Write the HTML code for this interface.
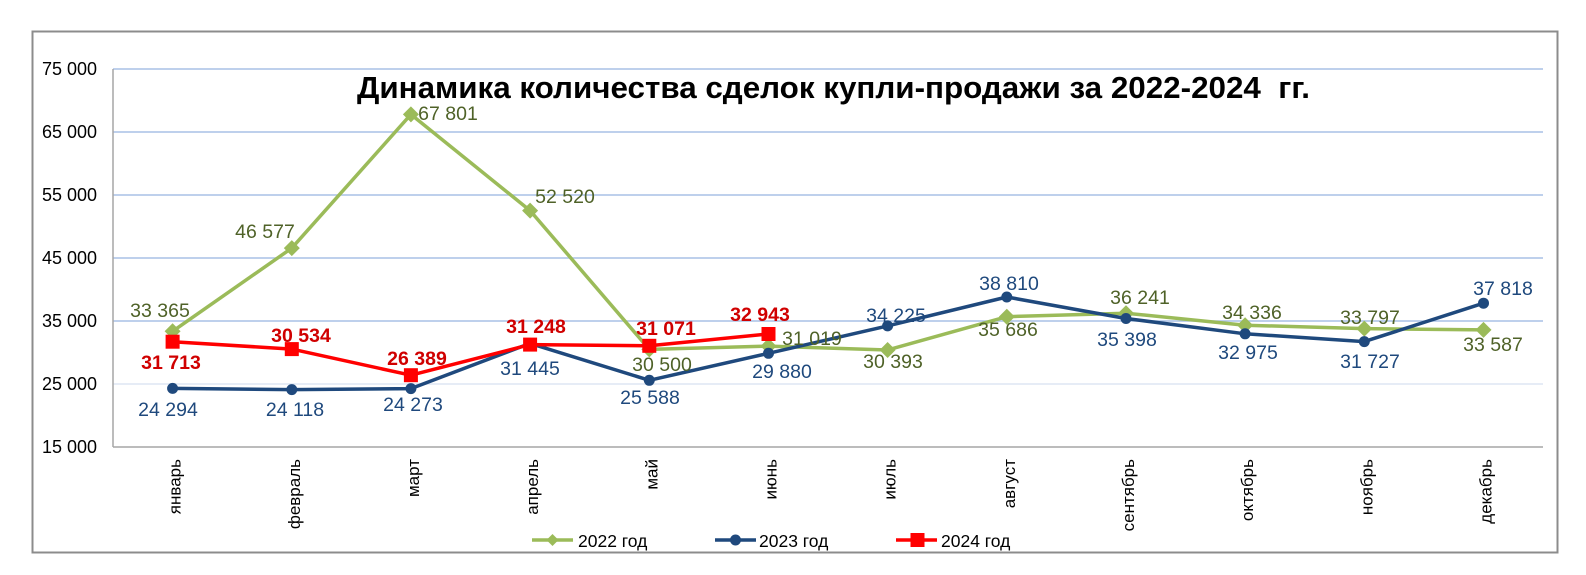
<!DOCTYPE html>
<html><head><meta charset="utf-8"><style>
html,body{margin:0;padding:0;background:#fff}
svg{display:block;font-family:"Liberation Sans",Arial,sans-serif}
</style></head><body>
<svg width="1586" height="575" viewBox="0 0 1586 575" xmlns="http://www.w3.org/2000/svg">
<rect x="0" y="0" width="1586" height="575" fill="#fff"/>
<rect x="32.5" y="31.5" width="1525" height="521" fill="#fff" stroke="#8c8c8c" stroke-width="2"/>
<g stroke="#a9c1e6" stroke-width="1.5">
<line x1="113" y1="69" x2="1543" y2="69"/>
<line x1="113" y1="132" x2="1543" y2="132"/>
<line x1="113" y1="195" x2="1543" y2="195"/>
<line x1="113" y1="258" x2="1543" y2="258"/>
<line x1="113" y1="321" x2="1543" y2="321"/>
<line x1="113" y1="384" x2="1543" y2="384" stroke="#dde6f4"/>
</g>
<line x1="113" y1="69" x2="113" y2="447" stroke="#a6a6a6" stroke-width="1.5"/>
<line x1="113" y1="447" x2="1543" y2="447" stroke="#a6a6a6" stroke-width="1.5"/>
<g font-size="18" fill="#000" text-anchor="end">
<text x="97" y="75">75 000</text>
<text x="97" y="138">65 000</text>
<text x="97" y="201">55 000</text>
<text x="97" y="264">45 000</text>
<text x="97" y="327">35 000</text>
<text x="97" y="390">25 000</text>
<text x="97" y="453">15 000</text>
</g>
<text x="357" y="98" font-size="31" font-weight="bold" textLength="953" lengthAdjust="spacingAndGlyphs">Динамика количества сделок купли-продажи за 2022-2024&#160;&#160;гг.</text>
<g font-size="17" fill="#000" text-anchor="end">
<text transform="translate(180.6,459) rotate(-90)">январь</text>
<text transform="translate(299.8,459) rotate(-90)">февраль</text>
<text transform="translate(418.9,459) rotate(-90)">март</text>
<text transform="translate(538.1,459) rotate(-90)">апрель</text>
<text transform="translate(657.3,459) rotate(-90)">май</text>
<text transform="translate(776.5,459) rotate(-90)">июнь</text>
<text transform="translate(895.6,459) rotate(-90)">июль</text>
<text transform="translate(1014.8,459) rotate(-90)">август</text>
<text transform="translate(1134,459) rotate(-90)">сентябрь</text>
<text transform="translate(1253.1,459) rotate(-90)">октябрь</text>
<text transform="translate(1372.3,459) rotate(-90)">ноябрь</text>
<text transform="translate(1491.5,459) rotate(-90)">декабрь</text>
</g>
<!-- 2022 -->
<polyline fill="none" stroke="#9bbb59" stroke-width="3.5" stroke-linejoin="round" points="172.6,331.3 291.8,248.1 410.9,114.4 530.1,210.6 649.3,349.4 768.5,346.1 887.6,350 1006.8,316.7 1126,313.2 1245.1,325.2 1364.3,328.6 1483.5,329.9"/>
<g fill="#9bbb59">
<polygon points="172.6,323.3 180.6,331.3 172.6,339.3 164.6,331.3"/>
<polygon points="291.8,240.1 299.8,248.1 291.8,256.1 283.8,248.1"/>
<polygon points="410.9,106.4 418.9,114.4 410.9,122.4 402.9,114.4"/>
<polygon points="530.1,202.6 538.1,210.6 530.1,218.6 522.1,210.6"/>
<polygon points="649.3,341.4 657.3,349.4 649.3,357.4 641.3,349.4"/>
<polygon points="768.5,338.1 776.5,346.1 768.5,354.1 760.5,346.1"/>
<polygon points="887.6,342 895.6,350 887.6,358 879.6,350"/>
<polygon points="1006.8,308.7 1014.8,316.7 1006.8,324.7 998.8,316.7"/>
<polygon points="1126,305.2 1134,313.2 1126,321.2 1118,313.2"/>
<polygon points="1245.1,317.2 1253.1,325.2 1245.1,333.2 1237.1,325.2"/>
<polygon points="1364.3,320.6 1372.3,328.6 1364.3,336.6 1356.3,328.6"/>
<polygon points="1483.5,321.9 1491.5,329.9 1483.5,337.9 1475.5,329.9"/>
</g>
<!-- 2023 -->
<polyline fill="none" stroke="#1f497d" stroke-width="3.5" stroke-linejoin="round" points="172.6,388.4 291.8,389.6 410.9,388.6 530.1,343.4 649.3,380.3 768.5,353.3 887.6,325.9 1006.8,297 1126,318.5 1245.1,333.8 1364.3,341.6 1483.5,303.2"/>
<g fill="#1f497d">
<circle cx="172.6" cy="388.4" r="5.5"/><circle cx="291.8" cy="389.6" r="5.5"/><circle cx="410.9" cy="388.6" r="5.5"/><circle cx="530.1" cy="343.4" r="5.5"/><circle cx="649.3" cy="380.3" r="5.5"/><circle cx="768.5" cy="353.3" r="5.5"/><circle cx="887.6" cy="325.9" r="5.5"/><circle cx="1006.8" cy="297" r="5.5"/><circle cx="1126" cy="318.5" r="5.5"/><circle cx="1245.1" cy="333.8" r="5.5"/><circle cx="1364.3" cy="341.6" r="5.5"/><circle cx="1483.5" cy="303.2" r="5.5"/>
</g>
<!-- 2024 -->
<polyline fill="none" stroke="#ff0000" stroke-width="3.5" stroke-linejoin="round" points="172.6,341.7 291.8,349.1 410.9,375.2 530.1,344.6 649.3,345.8 768.5,334"/>
<g fill="#ff0000">
<rect x="165.6" y="334.7" width="14" height="14"/><rect x="284.8" y="342.1" width="14" height="14"/><rect x="403.9" y="368.2" width="14" height="14"/><rect x="523.1" y="337.6" width="14" height="14"/><rect x="642.3" y="338.8" width="14" height="14"/><rect x="761.5" y="327" width="14" height="14"/>
</g>
<g font-size="19.5" fill="#4f6228" text-anchor="middle">
<text x="160" y="317">33 365</text><text x="265" y="238">46 577</text><text x="448" y="120">67 801</text><text x="565" y="203">52 520</text><text x="662" y="371">30 500</text><text x="812" y="345">31 019</text><text x="893" y="368">30 393</text><text x="1008" y="336">35 686</text><text x="1140" y="304">36 241</text><text x="1252" y="319">34 336</text><text x="1370" y="324">33 797</text><text x="1493" y="351">33 587</text>
</g>
<g font-size="19.5" fill="#1f497d" text-anchor="middle">
<text x="168" y="416">24 294</text><text x="295" y="416">24 118</text><text x="413" y="411">24 273</text><text x="530" y="375">31 445</text><text x="650" y="404">25 588</text><text x="782" y="378">29 880</text><text x="896" y="322">34 225</text><text x="1009" y="290">38 810</text><text x="1127" y="346">35 398</text><text x="1248" y="359">32 975</text><text x="1370" y="368">31 727</text><text x="1503" y="295">37 818</text>
</g>
<g font-size="19.5" fill="#d00000" font-weight="bold" text-anchor="middle">
<text x="171" y="369">31 713</text><text x="301" y="342">30 534</text><text x="417" y="365">26 389</text><text x="536" y="333">31 248</text><text x="666" y="335">31 071</text><text x="760" y="321">32 943</text>
</g>
<!-- legend -->
<line x1="532" y1="540" x2="573" y2="540" stroke="#9bbb59" stroke-width="3.5"/>
<polygon points="552.5,534 558.5,540 552.5,546 546.5,540" fill="#9bbb59"/>
<text x="578" y="547" font-size="17.5">2022 год</text>
<line x1="715" y1="540" x2="756" y2="540" stroke="#1f497d" stroke-width="3.5"/>
<circle cx="735.5" cy="540" r="5.5" fill="#1f497d"/>
<text x="759" y="547" font-size="17.5">2023 год</text>
<line x1="896" y1="540" x2="937" y2="540" stroke="#ff0000" stroke-width="3.5"/>
<rect x="910.5" y="533" width="14" height="14" fill="#ff0000"/>
<text x="941" y="547" font-size="17.5">2024 год</text>
</svg>
</body></html>
